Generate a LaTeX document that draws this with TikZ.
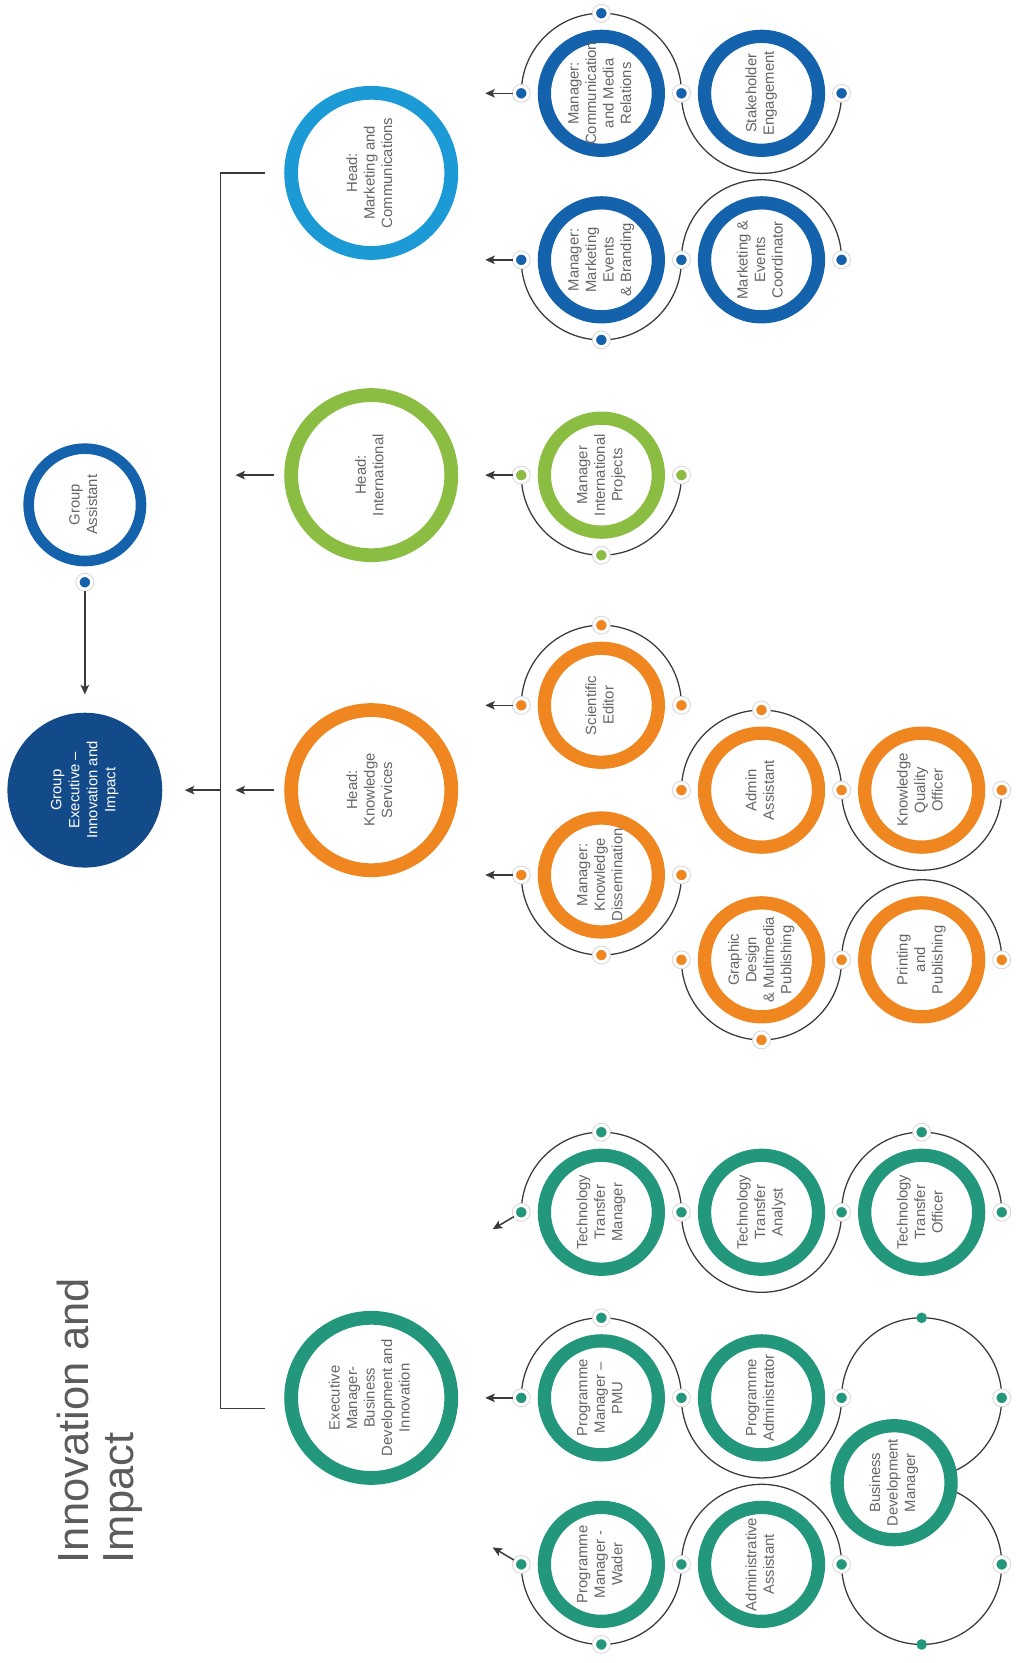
\documentclass[tikz,border=0pt]{standalone}
\usepackage{fontspec}
\setmainfont{Liberation Sans}
\usetikzlibrary{arrows.meta}
\definecolor{navy}{HTML}{134B8A}
\definecolor{dblue}{HTML}{1462AC}
\definecolor{lblue}{HTML}{1B9AD6}
\definecolor{lgreen}{HTML}{8BBD43}
\definecolor{orng}{HTML}{F0861F}
\definecolor{tealc}{HTML}{22977B}
\definecolor{txtgrey}{HTML}{646567}
\definecolor{lngrey}{HTML}{3A3A3A}
\pgfdeclarelayer{back}
\pgfsetlayers{back,main}
\newcommand{\vtext}[1]{\rotatebox{90}{\begin{tabular}{@{}c@{}}#1\end{tabular}}}
\tikzset{head/.style={circle,draw=#1,fill=white,line width=13pt,minimum size=151pt,inner sep=-14pt,text=txtgrey,font=\fontsize{14}{16.5}\selectfont},
  post/.style={circle,draw=#1,fill=white,line width=12.5pt,minimum size=107.5pt,inner sep=-14pt,text=txtgrey,font=\fontsize{14}{16.5}\selectfont},
  dot/.style={circle,inner sep=0pt,minimum size=13pt,fill=#1,draw=white,line width=3pt,preaction={draw=gray!35,line width=4.6pt}},
  pdot/.style={circle,inner sep=0pt,minimum size=10pt,fill=#1}}
\tikzstyle{orbit}=[line width=1.2pt,draw=lngrey]
\tikzstyle{line}=[line width=1.4pt,draw=lngrey]
\tikzstyle{arrow}=[line width=1.4pt,draw=lngrey,fill=lngrey,-{Stealth[length=9pt,width=8pt,inset=2pt]}]

\begin{document}
\begin{tikzpicture}[x=1pt,y=1pt,node distance=75.5pt]
\useasboundingbox (0,0) rectangle (959,-1568);

\node[anchor=south west,inner sep=0pt,text=txtgrey!90!black,font=\fontsize{41}{43}\selectfont] (title) at (53,-1474) {\rotatebox{90}{\begin{tabular}{@{}l@{}}Innovation and\\Impact\end{tabular}}};

% group executive and assistant
\node[post=dblue,line width=10pt,minimum size=106pt] (gas) at (80,-476) {\vtext{Group\\Assistant}};
\node[circle,fill=navy,minimum size=146pt,inner sep=-14pt,text=white,font=\fontsize{14}{17}\selectfont] (gex) at (80,-745) {\vtext{Group\\Executive –\\Innovation and\\Impact}};
\node[dot=dblue,below of=gas,node distance=73pt] (gas-s) {};
\draw[arrow,shorten >=17pt] (gas-s) -- (gex);

% heads
\node[head=lblue] (mch) at (350,-163) {\vtext{Head:\\Marketing and\\Communications}};
\node[head=lgreen] (inh) at (350,-448) {\vtext{Head:\\International}};
\node[head=orng] (ksh) at (350,-745) {\vtext{Head:\\Knowledge\\Services}};
\node[head=tealc] (emb) at (350,-1318) {\vtext{Executive\\Manager-\\Business\\Development and\\Innovation}};

\coordinate (brk-t) at (208,-163);
\coordinate (brk-k) at (208,-745);
\coordinate (brk-b) at (208,-1328);
\draw[line] ([xshift=-18pt]mch.west) -- (brk-t) -- (brk-b) -- ++(42,0);
\draw[arrow,shorten >=21pt] (brk-k) -- (gex);
\draw[arrow] ([xshift=-10pt]inh.west) -- ++(-36,0);
\draw[arrow] ([xshift=-10pt]ksh.west) -- ++(-36,0);

% marketing and communications
\node[post=dblue] (cmr) at (567,-88) {\vtext{Manager:\\Communication\\and Media\\Relations}};
\node[post=dblue] (sen) at (718,-88) {\vtext{Stakeholder\\Engagement}};
\node[post=dblue] (meb) at (567,-245) {\vtext{Manager:\\Marketing\\Events\\\& Branding}};
\node[post=dblue] (mec) at (718,-245) {\vtext{Marketing \&\\Events\\Coordinator}};
\node[dot=dblue,left of=cmr] (cmr-w) {};
\node[dot=dblue,above of=cmr] (cmr-n) {};
\node[dot=dblue,right of=cmr] (cmr-e) {};
\node[dot=dblue,right of=sen] (sen-e) {};
\node[dot=dblue,left of=meb] (meb-w) {};
\node[dot=dblue,below of=meb] (meb-s) {};
\node[dot=dblue,right of=meb] (meb-e) {};
\node[dot=dblue,right of=mec] (mec-e) {};

% international
\node[post=lgreen] (mip) at (567,-448) {\vtext{Manager\\International\\Projects}};
\node[dot=lgreen,left of=mip] (mip-w) {};
\node[dot=lgreen,below of=mip] (mip-s) {};
\node[dot=lgreen,right of=mip] (mip-e) {};

% knowledge services
\node[post=orng] (sed) at (567,-665) {\vtext{Scientific\\Editor}};
\node[post=orng] (mkd) at (567,-825) {\vtext{Manager:\\Knowledge\\Dissemination}};
\node[post=orng] (aas) at (718,-745) {\vtext{Admin\\Assistant}};
\node[post=orng] (kqo) at (869,-745) {\vtext{Knowledge\\Quality\\Officer}};
\node[post=orng] (gdm) at (718,-905) {\vtext{Graphic\\Design\\\& Multimedia\\Publishing}};
\node[post=orng] (ppu) at (869,-905) {\vtext{Printing\\and\\Publishing}};
\node[dot=orng,left of=sed] (sed-w) {};
\node[dot=orng,above of=sed] (sed-n) {};
\node[dot=orng,right of=sed] (sed-e) {};
\node[dot=orng,left of=mkd] (mkd-w) {};
\node[dot=orng,below of=mkd] (mkd-s) {};
\node[dot=orng,right of=mkd] (mkd-e) {};
\node[dot=orng,left of=aas] (aas-w) {};
\node[dot=orng,above of=aas] (aas-n) {};
\node[dot=orng,right of=aas] (aas-e) {};
\node[dot=orng,right of=kqo] (kqo-e) {};
\node[dot=orng,left of=gdm] (gdm-w) {};
\node[dot=orng,below of=gdm] (gdm-s) {};
\node[dot=orng,right of=gdm] (gdm-e) {};
\node[dot=orng,right of=ppu] (ppu-e) {};

% business development and innovation
\node[post=tealc] (ttm) at (567,-1143) {\vtext{Technology\\Transfer\\Manager}};
\node[post=tealc] (tta) at (718,-1143) {\vtext{Technology\\Transfer\\Analyst}};
\node[post=tealc] (tto) at (869,-1143) {\vtext{Technology\\Transfer\\Officer}};
\node[post=tealc] (pmp) at (567,-1318) {\vtext{Programme\\Manager –\\PMU}};
\node[post=tealc] (pad) at (718,-1318) {\vtext{Programme\\Administrator}};
\node[post=tealc] (bdm) at (843,-1398) {\vtext{Business\\Development\\Manager}};
\node[post=tealc] (pmw) at (567,-1475) {\vtext{Programme\\Manager -\\Wader}};
\node[post=tealc] (aad) at (718,-1475) {\vtext{Administrative\\Assistant}};
\coordinate (uo) at (869,-1318);
\coordinate (lo) at (869,-1475);
\node[dot=tealc,left of=ttm] (ttm-w) {};
\node[dot=tealc,above of=ttm] (ttm-n) {};
\node[dot=tealc,right of=ttm] (ttm-e) {};
\node[dot=tealc,right of=tta] (tta-e) {};
\node[dot=tealc,above of=tto] (tto-n) {};
\node[dot=tealc,right of=tto] (tto-e) {};
\node[dot=tealc,left of=pmp] (pmp-w) {};
\node[dot=tealc,above of=pmp] (pmp-n) {};
\node[dot=tealc,right of=pmp] (pmp-e) {};
\node[dot=tealc,right of=pad] (pad-e) {};
\node[pdot=tealc,above of=uo] (uo-n) {};
\node[dot=tealc,right of=uo] (uo-e) {};
\node[dot=tealc,left of=pmw] (pmw-w) {};
\node[dot=tealc,below of=pmw] (pmw-s) {};
\node[dot=tealc,right of=pmw] (pmw-e) {};
\node[dot=tealc,right of=aad] (aad-e) {};
\node[pdot=tealc,below of=lo] (lo-s) {};
\node[dot=tealc,right of=lo] (lo-e) {};

\begin{pgfonlayer}{back}
\draw[orbit] (cmr-w.center) arc[start angle=180,end angle=0,radius=75.5];
\draw[orbit] (cmr-e.center) arc[start angle=180,end angle=360,radius=75.5];
\draw[orbit] (meb-w.center) arc[start angle=180,end angle=360,radius=75.5];
\draw[orbit] (meb-e.center) arc[start angle=180,end angle=0,radius=75.5];
\draw[orbit] (mip-w.center) arc[start angle=180,end angle=360,radius=75.5];
\draw[orbit] (sed-w.center) arc[start angle=180,end angle=0,radius=75.5];
\draw[orbit] (mkd-w.center) arc[start angle=180,end angle=360,radius=75.5];
\draw[orbit] (aas-w.center) arc[start angle=180,end angle=0,radius=75.5];
\draw[orbit] (aas-e.center) arc[start angle=180,end angle=360,radius=75.5];
\draw[orbit] (gdm-w.center) arc[start angle=180,end angle=360,radius=75.5];
\draw[orbit] (gdm-e.center) arc[start angle=180,end angle=0,radius=75.5];
\draw[orbit] (ttm-w.center) arc[start angle=180,end angle=0,radius=75.5];
\draw[orbit] (ttm-e.center) arc[start angle=180,end angle=360,radius=75.5];
\draw[orbit] (tta-e.center) arc[start angle=180,end angle=0,radius=75.5];
\draw[orbit] (pmp-w.center) arc[start angle=180,end angle=0,radius=75.5];
\draw[orbit] (pmp-e.center) arc[start angle=180,end angle=360,radius=75.5];
\draw[orbit] (pad-e.center) arc[start angle=180,end angle=-68,radius=75.5];
\draw[orbit] (pmw-w.center) arc[start angle=180,end angle=360,radius=75.5];
\draw[orbit] (pmw-e.center) arc[start angle=180,end angle=0,radius=75.5];
\draw[orbit] (aad-e.center) arc[start angle=180,end angle=428,radius=75.5];
\end{pgfonlayer}

\draw[arrow] (cmr-w) -- ++(-34,0);
\draw[arrow] (meb-w) -- ++(-34,0);
\draw[arrow] (mip-w) -- ++(-34,0);
\draw[arrow] (sed-w) -- ++(-34,0);
\draw[arrow] (mkd-w) -- ++(-34,0);
\draw[arrow] (ttm-w) -- ++(-27,-16);
\draw[arrow] (pmp-w) -- ++(-34,0);
\draw[arrow] (pmw-w) -- ++(-27,16);
\end{tikzpicture}
\end{document}
